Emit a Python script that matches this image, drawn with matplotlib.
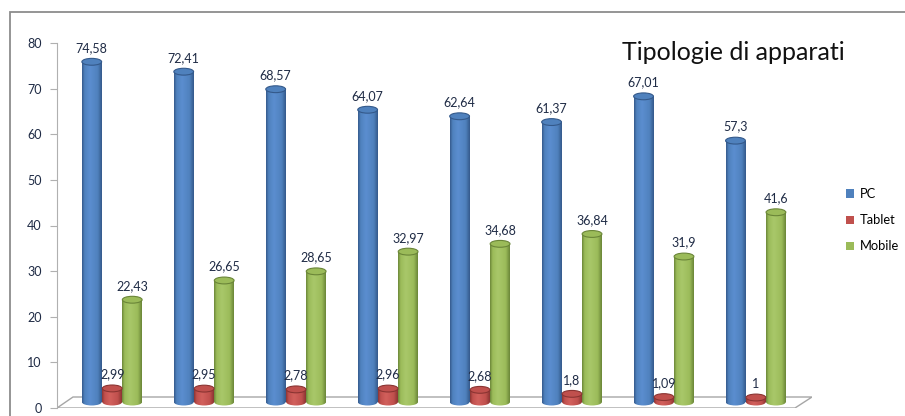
import numpy as np
import matplotlib
matplotlib.use('Agg')
import matplotlib.pyplot as plt
from matplotlib.patches import Ellipse, Rectangle, Polygon
from matplotlib.colors import LinearSegmentedColormap

# data
series = ['PC', 'Tablet', 'Mobile']
pc = [74.58, 72.41, 68.57, 64.07, 62.64, 61.37, 67.01, 57.3]
tablet = [2.99, 2.95, 2.78, 2.96, 2.68, 1.8, 1.09, 1]
mobile = [22.43, 26.65, 28.65, 32.97, 34.68, 36.84, 31.9, 41.6]
yticks = [0, 10, 20, 30, 40, 50, 60, 70, 80]
title = 'Tipologie di apparati'

colors = ['#4F81BD', '#C0504D', '#9BBB59']
shades = [('#34598A', '#5B8ED0'), ('#8A3432', '#D2605C'), ('#6A8538', '#A9C86A')]

plt.rcParams['font.family'] = ['Lato', 'DejaVu Sans']

W, H = 905, 416
fig = plt.figure(figsize=(W / 100, H / 100), dpi=100)
ax = fig.add_axes([57 / W, 8 / H, (812 - 57) / W, (408 - 43) / H])

# outer chart frame
fig.add_artist(Rectangle((10 / W, -0.1), 1.2, 1 - 12 / H + 0.1, transform=fig.transFigure,
                         fill=False, ec='#8C8C8C', lw=1.3))

# floor of the 3d plot
floor = Polygon([(0, 0), ((795 - 57) / 755, 0), (1, 11 / 365), ((73 - 57) / 755, 11 / 365)],
                closed=True, transform=ax.transAxes, fc='white', ec='#A6A6A6', lw=1, zorder=1)
ax.add_patch(floor)

lift = 1.3       # bars stand a bit back on the floor
width = 0.215
cap_h = 1.5
offsets = [-0.222, 0, 0.218]
x = np.arange(len(pc))

for vals, off, col, (dark, light) in zip([pc, tablet, mobile], offsets, colors, shades):
    cmap = LinearSegmentedColormap.from_list(
        'c', [(0, dark), (0.12, col), (0.4, light), (0.8, col), (1, dark)])
    grad = np.linspace(0, 1, 64).reshape(1, -1)
    bars = ax.bar(x + off, vals, width, bottom=lift, color='none', edgecolor='none', zorder=3)
    for b, v in zip(bars, vals):
        x0 = b.get_x()
        x1 = x0 + b.get_width()
        xc = x0 + b.get_width() / 2
        bottom_cap = Ellipse((xc, lift), b.get_width(), cap_h, fc='none', ec='none')
        ax.add_patch(bottom_cap)
        for clip in (b, bottom_cap):
            im = ax.imshow(grad, cmap=cmap, extent=[x0, x1, lift - cap_h, lift + v],
                           aspect='auto', zorder=3, interpolation='bicubic')
            im.set_clip_path(clip)
        ax.add_patch(Ellipse((xc, lift + v), b.get_width(), cap_h, fc=col, ec=dark,
                             lw=0.8, zorder=4))
        lab = f'{v:g}'.replace('.', ',')
        ax.text(xc, lift + v + cap_h / 2 + 1.0, lab, ha='center', va='bottom',
                fontsize=9, color='#1F2B45', zorder=5)

ax.set_xlim(-0.6, 7.61)
ax.set_ylim(0, 80)

for s in ['top', 'right', 'bottom']:
    ax.spines[s].set_visible(False)
ax.spines['left'].set_color('#B0B0B0')
ax.set_xticks([])
ax.set_yticks(yticks)
ax.tick_params(axis='y', direction='out', length=5, color='#B0B0B0', pad=6,
               labelsize=9, labelcolor='#1F2B45')

fig.text(622 / W, 1 - 52 / H, title, ha='left', va='center', fontsize=18, color='#111111')

handles = [Rectangle((0, 0), 1, 1, fc=c) for c in colors]
fig.legend(handles, series, loc='upper left', bbox_to_anchor=(846 / W, 1 - 188 / H),
           frameon=False, fontsize=9.3, handlelength=0.6, handleheight=0.6,
           handletextpad=0.5, labelspacing=1.1, borderaxespad=0, borderpad=0)

fig.savefig('out.png', dpi=100)
